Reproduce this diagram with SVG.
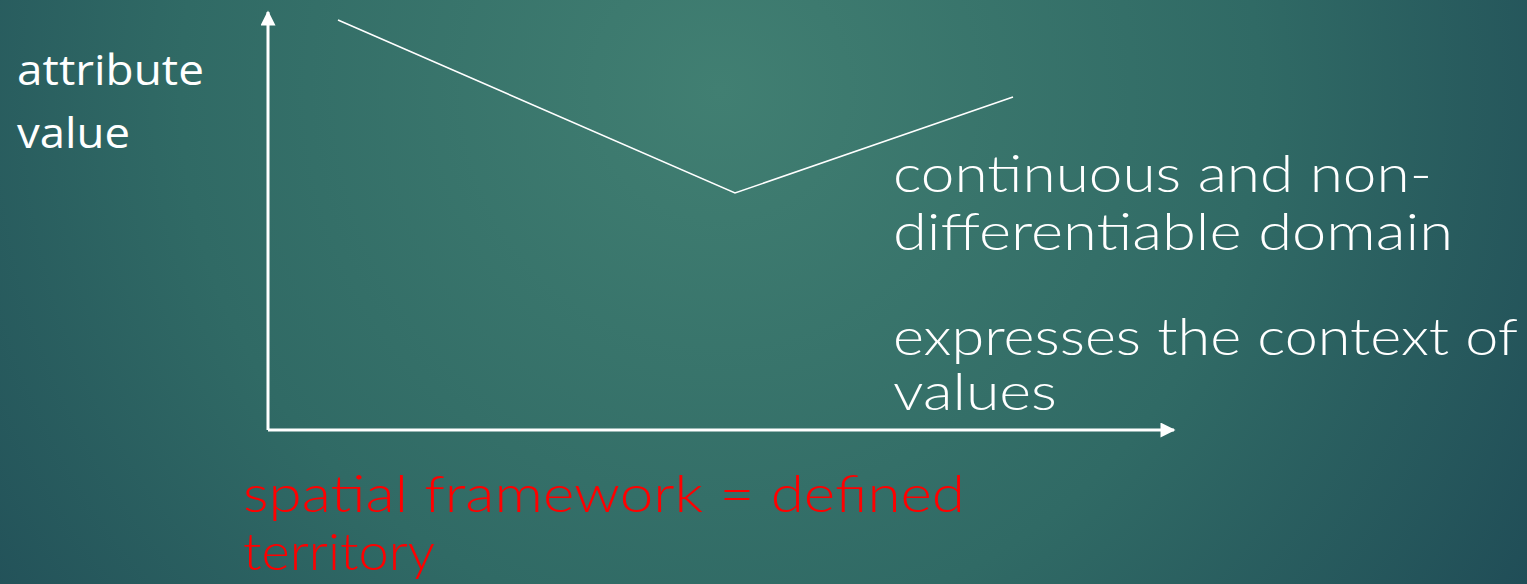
<svg xmlns="http://www.w3.org/2000/svg" width="1527" height="584" viewBox="0 0 1527 584">
  <defs>
    <radialGradient id="bg" cx="720" cy="90" r="980" gradientUnits="userSpaceOnUse">
      <stop offset="0" stop-color="#417f72"/>
      <stop offset="0.55" stop-color="#306a65"/>
      <stop offset="1" stop-color="#1f4b56"/>
    </radialGradient>
    <marker id="arrow" viewBox="0 0 10 10" refX="9" refY="5" markerWidth="6" markerHeight="5" markerUnits="strokeWidth" orient="auto">
      <path d="M0,0 L10,5 L0,10 Z" fill="#ffffff"/>
    </marker>
    <style>
      .axis { stroke: #ffffff; stroke-width: 3; fill: none; }
      .curve { stroke: #ffffff; stroke-width: 1.6; fill: none; }
      .lbl { font-family: "Open Sans", "Liberation Sans", sans-serif; font-size: 42px; fill: #ffffff; }
      .note { font-family: "Lato", "DejaVu Sans", sans-serif; font-weight: 300; font-size: 51px; fill: #ffffff; }
      .red { font-family: "Lato", "DejaVu Sans", sans-serif; font-weight: 300; font-size: 52px; fill: #ff0000; }
    </style>
  </defs>

  <rect width="1527" height="584" fill="url(#bg)"/>

  <!-- axes and plotted line -->
  <g id="connectors">
    <path class="axis" d="M268,430 L268,12" marker-end="url(#arrow)"/>
    <path class="axis" d="M268,430 L1174,430" marker-end="url(#arrow)"/>
    <polyline class="curve" points="338,20 735,193 1013,97"/>
  </g>

  <g id="y-label">
    <text class="lbl" x="17" y="85" textLength="187" lengthAdjust="spacingAndGlyphs">attribute</text>
    <text class="lbl" x="17" y="148" textLength="113" lengthAdjust="spacingAndGlyphs">value</text>
  </g>

  <g id="domain-note">
    <text class="note" x="893" y="192" textLength="539" lengthAdjust="spacingAndGlyphs">continuous and non-</text>
    <text class="note" x="893" y="250" textLength="560" lengthAdjust="spacingAndGlyphs">differentiable domain</text>
  </g>

  <g id="context-note">
    <text class="note" x="893" y="355" textLength="625" lengthAdjust="spacingAndGlyphs">expresses the context of</text>
    <text class="note" x="893" y="410" textLength="164" lengthAdjust="spacingAndGlyphs">values</text>
  </g>

  <g id="x-label">
    <text class="red" x="243" y="512" textLength="722" lengthAdjust="spacingAndGlyphs">spatial framework = defined</text>
    <text class="red" x="243" y="570" textLength="192" lengthAdjust="spacingAndGlyphs">territory</text>
  </g>
</svg>
